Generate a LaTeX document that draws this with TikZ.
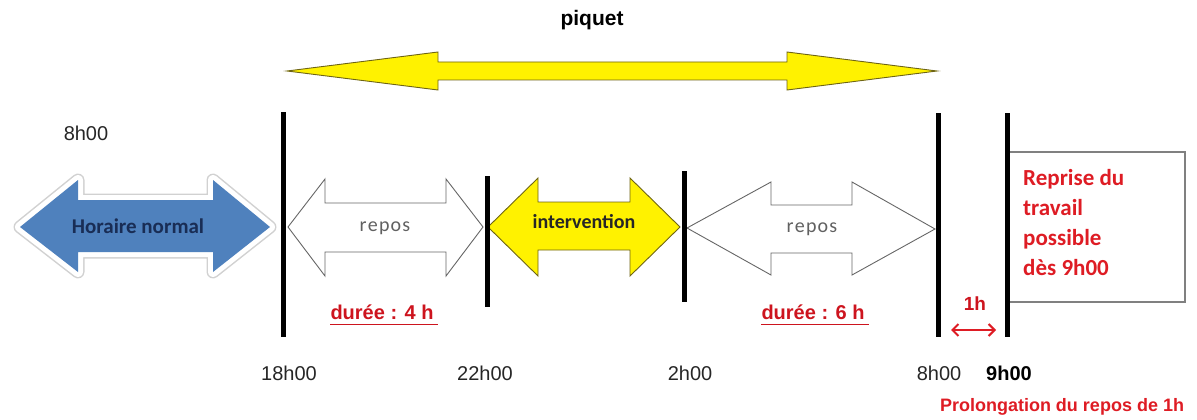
\documentclass[tikz,border=0pt]{standalone}
\usepackage{fontspec}
\setmainfont{Liberation Sans}
\newfontfamily\calfont{Carlito}
\usetikzlibrary{arrows.meta}
\definecolor{myred}{RGB}{222,28,36}
\definecolor{dred}{RGB}{205,20,30}
\definecolor{hblue}{RGB}{79,129,189}
\definecolor{navy}{RGB}{25,45,85}
\definecolor{olive}{RGB}{110,100,20}
\newcommand{\spacedrepos}{r\kern1.2pt e\kern1.2pt p\kern1.2pt o\kern1.2pt s}
\begin{document}
\begin{tikzpicture}[x=1pt,y=-1pt,
  bar/.style={line width=5pt, black},
  lbl/.style={font=\fontsize{20}{24}\selectfont, inner sep=0pt, text=black!85},
  blbl/.style={font=\fontsize{20}{24}\selectfont\bfseries, inner sep=0pt, text=black},
  redlbl/.style={font=\fontsize{20}{24}\selectfont\bfseries, inner sep=0pt, text=dred},
  piq/.style={fill=yellow, draw=olive, line width=0.9pt, line join=miter},
  repos/.style={fill=white, draw=black!60, line width=0.9pt},
  interv/.style={fill=yellow, draw=olive, line width=0.9pt},
  arrtxt/.style={font=\calfont\fontsize{20}{24}\selectfont, inner sep=0pt}
]
\useasboundingbox (0,0) rectangle (1197,420);

% piquet arrow
\draw[piq] (287,71) -- (438,52) -- (438,62) -- (787,62) -- (787,52) -- (937,71)
  -- (787,90) -- (787,80) -- (438,80) -- (438,90) -- cycle;
\node[blbl, font=\fontsize{21}{24}\selectfont\bfseries] (piquet) at (592,20) {piquet};

% Horaire normal arrow with glow
\draw[black!18, line width=13pt, line join=round] (20,227) -- (78,180) -- (78,200) -- (213,200) -- (213,180) -- (270,227)
  -- (213,272) -- (213,252) -- (78,252) -- (78,272) -- cycle;
\draw[white, line width=10pt, line join=round] (20,227) -- (78,180) -- (78,200) -- (213,200) -- (213,180) -- (270,227)
  -- (213,272) -- (213,252) -- (78,252) -- (78,272) -- cycle;
\fill[hblue] (20,227) -- (78,180) -- (78,200) -- (213,200) -- (213,180) -- (270,227)
  -- (213,272) -- (213,252) -- (78,252) -- (78,272) -- cycle;
\node[arrtxt, text=navy, font=\calfont\fontsize{21}{24}\selectfont\bfseries] (horaire) at (138,226) {Horaire normal};

% repos 1
\draw[repos] (288,227) -- (325,179) -- (325,203) -- (446,203) -- (446,179) -- (483,227)
  -- (446,276) -- (446,252) -- (325,252) -- (325,276) -- cycle;
\node[arrtxt, text=black!62] (repos1) at (385,228) {\spacedrepos};

% intervention
\draw[interv] (488,227) -- (538,178) -- (538,202) -- (630,202) -- (630,178) -- (680,227)
  -- (630,276) -- (630,250) -- (538,250) -- (538,276) -- cycle;
\node[arrtxt, text=black!85, font=\calfont\fontsize{20}{24}\selectfont\bfseries] (interv) at (584,222) {intervention};

% repos 2
\draw[repos] (687,228) -- (771,182) -- (771,205) -- (852,205) -- (852,182) -- (935,229)
  -- (852,275) -- (852,253) -- (771,253) -- (771,275) -- cycle;
\node[arrtxt, text=black!62] (repos2) at (812,229) {\spacedrepos};

% box
\draw[black!50, line width=1.2pt] (1007,152) -| (1185,302) -- (1007,302);
\node[anchor=west, align=left, inner sep=0pt, text=myred,
  font=\calfont\fontsize{23}{30}\selectfont\bfseries] (reprise) at (1023,223)
  {Reprise du\\travail\\possible\\dès 9h00};

% bars
\draw[bar] (283,112) -- (283,337);
\draw[bar] (487,176) -- (487,307);
\draw[bar] (684,171) -- (684,302);
\draw[bar] (938,113) -- (938,337);
\draw[bar] (1007,113) -- (1007,337);

% durations
\node[redlbl] (d4) at (382,312) {durée : 4 h};
\draw[dred, line width=1pt] ([yshift=-12pt]d4.west) -- ([yshift=-12pt,xshift=4pt]d4.east);
\node[redlbl] (d6) at (813,312) {durée : 6 h};
\draw[dred, line width=1pt] ([yshift=-12pt]d6.west) -- ([yshift=-12pt,xshift=4pt]d6.east);

% 1h
\node[redlbl, font=\fontsize{19}{22}\selectfont\bfseries] (oneh) at (975,304) {1h};
\coordinate (ha) at (951,330);
\coordinate (hb) at (996,330);
\draw[myred, line width=2pt, {Straight Barb[length=6pt,width=12pt]}-{Straight Barb[length=6pt,width=12pt]}] (ha) -- (hb);

% time labels
\node[lbl] (t8a) at (86,133) {8h00};
\node[lbl] (t18) at (289,373) {18h00};
\node[lbl] (t22) at (485,373) {22h00};
\node[lbl] (t2) at (690,373) {2h00};
\node[lbl] (t8b) at (939,373) {8h00};
\node[blbl] (t9) at (1009,373) {9h00};

\node[redlbl, font=\fontsize{18}{20}\selectfont\bfseries, text=myred] (prolong) at (1062,407) {Prolongation du repos de 1h};
\end{tikzpicture}
\end{document}
